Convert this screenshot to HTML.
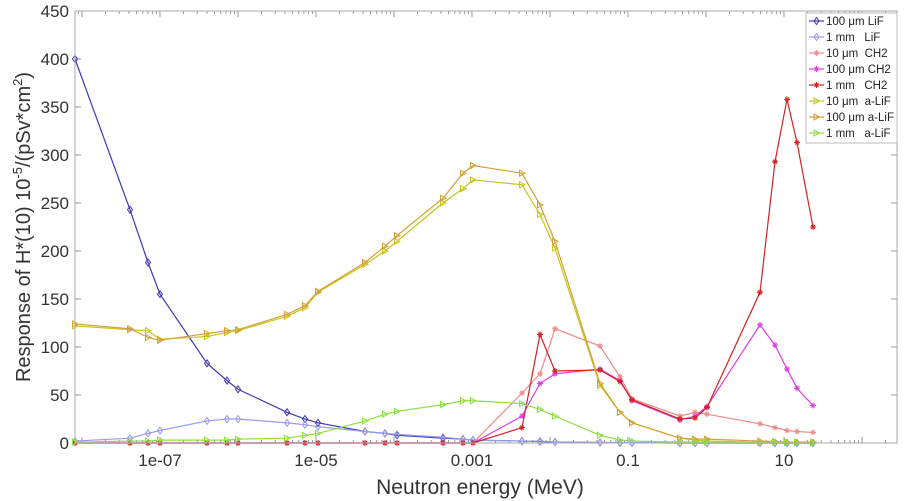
<!DOCTYPE html>
<html><head><meta charset="utf-8"><style>
body{margin:0;background:#fff;}
svg{display:block;font-family:"Liberation Sans",sans-serif;}
</style></head><body>
<svg id="s" width="906" height="501" xmlns="http://www.w3.org/2000/svg">
<rect x="0" y="0" width="906" height="501" fill="#fff"/>
<g id="ax"></g>
<g id="data"></g>
<rect x="75" y="11" width="822" height="432" fill="none" stroke="#aaa" stroke-width="1"/>
<text x="480" y="494" font-size="21" text-anchor="middle" fill="#333">Neutron energy (MeV)</text>
<text transform="translate(30,227) rotate(-90)" font-size="20" text-anchor="middle" fill="#333">Response of H*(10) 10<tspan dy="-8" font-size="13">-5</tspan><tspan dy="8">/(pSv*cm</tspan><tspan dy="-8" font-size="13">2</tspan><tspan dy="8">)</tspan></text>
<g id="leg"></g>
</svg>
<script>
const NS="http://www.w3.org/2000/svg";
function el(t,a,p,txt){const e=document.createElementNS(NS,t);for(const k in a)e.setAttribute(k,a[k]);if(txt!==undefined)e.textContent=txt;p.appendChild(e);return e;}
const ax=document.getElementById('ax'),dg=document.getElementById('data'),lg=document.getElementById('leg');
const Y=v=>443-v*0.96;
// y ticks
for(let v=0;v<=450;v+=50){const y=Y(v);el('text',{x:69,y:y+6,'font-size':17,'text-anchor':'end',fill:'#333'},ax,v);
el('line',{x1:75,x2:81,y1:y,y2:y,stroke:'#999'},ax);el('line',{x1:891,x2:897,y1:y,y2:y,stroke:'#999'},ax);}
// x ticks
const X=l=>160+(l+7)*78;
const labs={'-7':'1e-07','-5':'1e-05','-3':'0.001','-1':'0.1','1':'10'};
for(let d=-9;d<=2;d++){for(let m=1;m<10;m++){const px=X(d+Math.log10(m));if(px<75||px>897)continue;
const h=m==1?6:3;el('line',{x1:px,x2:px,y1:443,y2:443-h,stroke:'#999'},ax);el('line',{x1:px,x2:px,y1:11,y2:11+h,stroke:'#999'},ax);}
if(labs[d]!==undefined)el('text',{x:X(d),y:466,'font-size':17,'text-anchor':'middle',fill:'#333'},ax,labs[d]);}
const xs=[75,130,148,160,207,227,238,287,305,318,365,385,397,443,463,473,522,540,555,600,620,632,680,695,707,760,775,787,797,813];
const S=[
['100 \u03bcm LiF','#3b3bb5','d',[400,243,188,155,83,65,56,32,25,21,12,10,8,5,4,3,2,1.5,1,0.5,0.3,0.2,0,0,0,0,0,0,0,0]],
['1 mm   LiF','#9a9aec','d',[2,5,10,13,23,25,25,21,19,17,12,10,9,6,4,3,2,2,1,0.5,0.5,0.3,0,0,0,0,0,0,0,0]],
['10 \u03bcm  CH2','#f08a8a','s',[0,0,0,0,0,0,0,0,0,0,0,0,0,0,0,0,52,72,119,101,69,46,28,32,30,20,16,13,12,11]],
['100 \u03bcm CH2','#de3ede','s',[0,0,0,0,0,0,0,0,0,0,0,0,0,0,0,0,28,62,72,77,65,44,24,28,38,123,102,77,57,39]],
['1 mm   CH2','#d42222','s',[0,0,0,0,0,0,0,0,0,0,0,0,0,0,0,0,16,113,75,76,64,45,25,26,37,157,293,358,313,225]],
['10 \u03bcm  a-LiF','#c6c61a','t',[122,118,117,108,111,115,117,132,141,157,186,200,210,250,265,274,269,238,203,60,32,21,5,3,2,1,1,1,0.5,0.5]],
['100 \u03bcm a-LiF','#d4a035','t',[124,119,110,107,114,117,118,134,143,158,188,205,216,255,281,289,281,248,210,62,32,21,5,4,4,2,1.5,1,1,1]],
['1 mm   a-LiF','#8ee040','t',[1,2,2,3,3,3,4,5,8,10,23,30,33,40,44,44,41,35,28,8,3,2,1,1,1,0.5,0.5,0.3,0.2,0]]
];
function mark(t,x,y,c,p){
 if(t=='d')el('path',{d:`M${x},${y-3.5}L${x+2.5},${y}L${x},${y+3.5}L${x-2.5},${y}Z`,fill:'none',stroke:c,'stroke-width':1},p);
 else if(t=='t')el('path',{d:`M${x-2.5},${y-3}L${x+3},${y}L${x-2.5},${y+3}Z`,fill:'none',stroke:c,'stroke-width':1},p);
 else el('path',{d:`M${x-3},${y}H${x+3}M${x},${y-3}V${y+3}M${x-2},${y-2}L${x+2},${y+2}M${x-2},${y+2}L${x+2},${y-2}`,stroke:c,'stroke-width':1},p);
}
S.forEach(([n,c,t,v])=>{
 const pts=xs.map((x,i)=>[x,Y(v[i])]);
 el('polyline',{points:pts.map(p=>p.join(',')).join(' '),fill:'none',stroke:c,'stroke-width':1.2},dg);
 pts.forEach(p=>mark(t,p[0],p[1],c,dg));
});
// legend
el('rect',{x:806,y:13,width:91,height:130,fill:'#fff',stroke:'#bbb'},lg);
S.forEach(([n,c,t],i)=>{const y=21+i*16;
 el('line',{x1:809,x2:824,y1:y,y2:y,stroke:c,'stroke-width':1.2},lg);mark(t,816.5,y,c,lg);
 el('text',{x:826,y:y+4,'font-size':11.5,fill:'#222','xml:space':'preserve'},lg,n).setAttribute('style','white-space:pre');});
</script>
</body></html>
